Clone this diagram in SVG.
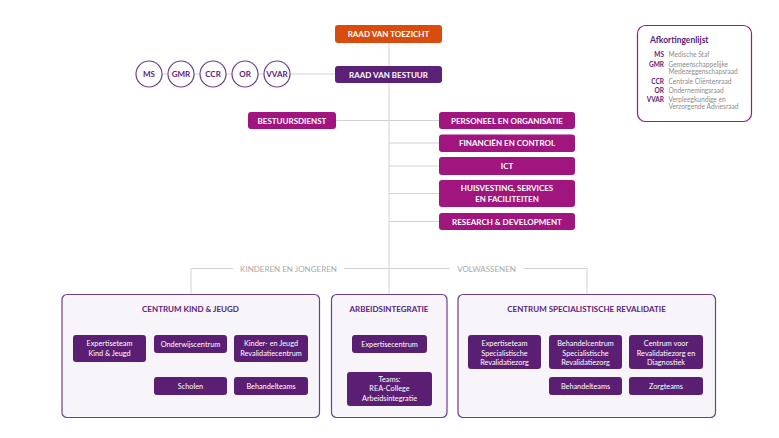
<svg xmlns="http://www.w3.org/2000/svg" width="779" height="438" viewBox="0 0 779 438">
<style>
text{font-family:Lato,"Open Sans","Liberation Sans",sans-serif}
.hb{font-size:8px;font-weight:700;fill:#fff;text-anchor:middle}
.sb{font-size:7.3px;fill:#fff;text-anchor:middle}
.ttl{font-size:8px;font-weight:700;fill:#5b2177;text-anchor:middle}
.grp{font-size:8px;fill:#a8a8a8;text-anchor:middle}
.ln{stroke:#d2d2d2;stroke-width:1;fill:none}
.orange{fill:#d84d0e}
.dp{fill:#5b2177}
.mg{fill:#a0157e}
.sub{fill:#5a1f72}
.big{fill:#f7f5f9;stroke:#6d3f8d;stroke-width:1.2}
.circ{fill:#fff;stroke:#6d3f8d;stroke-width:1.2}
.ct{font-size:8px;font-weight:700;fill:#5b2177;text-anchor:middle}
.la{font-size:6.5px;font-weight:700;fill:#5b2177;text-anchor:end}
.ld{font-size:6.6px;fill:#8c8c8c}
</style>
<rect width="779" height="438" fill="#fff"/>
<g id="connectors">
<line class="ln" x1="389" y1="43" x2="389" y2="295"/>
<line class="ln" x1="162" y1="74" x2="335" y2="74"/>
<line class="ln" x1="336" y1="120.5" x2="439" y2="120.5"/>
<line class="ln" x1="389" y1="143" x2="439" y2="143"/>
<line class="ln" x1="389" y1="166" x2="439" y2="166"/>
<line class="ln" x1="389" y1="193.5" x2="439" y2="193.5"/>
<line class="ln" x1="389" y1="221.5" x2="439" y2="221.5"/>
<polyline class="ln" points="191,295 191,268.5 233,268.5"/>
<line class="ln" x1="344" y1="268.5" x2="450" y2="268.5"/>
<polyline class="ln" points="523,268.5 587,268.5 587,295"/>
<polyline class="ln" points="109,335 109,322.5 271,322.5 271,377"/>
<line class="ln" x1="190" y1="322.5" x2="190" y2="377"/>
<line class="ln" x1="389" y1="322" x2="389" y2="372"/>
<polyline class="ln" points="504,335 504,322.5 666,322.5 666,377"/>
<line class="ln" x1="586" y1="322.5" x2="586" y2="377"/>
</g>
<g id="raad-van-toezicht"><rect class="orange" x="335" y="25" width="107" height="18" rx="3"/><text class="hb" x="388.5" y="37">RAAD VAN TOEZICHT</text></g>
<g id="raad-van-bestuur"><rect class="dp" x="335" y="66" width="107" height="17" rx="3"/><text class="hb" x="388.5" y="77.5">RAAD VAN BESTUUR</text></g>
<g id="ms"><circle class="circ" cx="149" cy="74" r="13"/><text class="ct" x="149" y="77">MS</text></g>
<g id="gmr"><circle class="circ" cx="181" cy="74" r="13"/><text class="ct" x="181" y="77">GMR</text></g>
<g id="ccr"><circle class="circ" cx="213" cy="74" r="13"/><text class="ct" x="213" y="77">CCR</text></g>
<g id="or"><circle class="circ" cx="245" cy="74" r="13"/><text class="ct" x="245" y="77">OR</text></g>
<g id="vvar"><circle class="circ" cx="277" cy="74" r="13"/><text class="ct" x="277" y="77">VVAR</text></g>
<g id="bestuursdienst"><rect class="mg" x="248" y="112" width="88" height="17" rx="3"/><text class="hb" x="292" y="123.5">BESTUURSDIENST</text></g>
<g id="personeel"><rect class="mg" x="439" y="112" width="136" height="17" rx="3"/><text class="hb" x="507" y="123.5">PERSONEEL EN ORGANISATIE</text></g>
<g id="financien"><rect class="mg" x="439" y="134.5" width="136" height="17.5" rx="3"/><text class="hb" x="507" y="146">FINANCIËN EN CONTROL</text></g>
<g id="ict"><rect class="mg" x="439" y="157" width="136" height="18" rx="3"/><text class="hb" x="507" y="169">ICT</text></g>
<g id="huisvesting"><rect class="mg" x="439" y="180" width="136" height="27" rx="3"/><text class="hb" x="507" y="191">HUISVESTING, SERVICES</text><text class="hb" x="507" y="201.5">EN FACILITEITEN</text></g>
<g id="research"><rect class="mg" x="439" y="213" width="136" height="17" rx="3"/><text class="hb" x="507" y="224.5">RESEARCH &amp; DEVELOPMENT</text></g>
<g id="afkortingenlijst">
<rect x="637.5" y="25.5" width="114" height="96" rx="8" fill="#fff" stroke="#a0157e" stroke-width="1.2"/>
<text x="650" y="43" style="font-size:8.5px;font-weight:700;fill:#5b2177">Afkortingenlijst</text>
<text class="la" x="664" y="57">MS</text><text class="ld" x="668.5" y="57">Medische Staf</text>
<text class="la" x="664" y="66.5">GMR</text><text class="ld" x="668.5" y="66.5">Gemeenschappelijke</text><text class="ld" x="668.5" y="73.5">Medezeggenschapsraad</text>
<text class="la" x="664" y="83.5">CCR</text><text class="ld" x="668.5" y="83.5">Centrale Cliëntenraad</text>
<text class="la" x="664" y="92.5">OR</text><text class="ld" x="668.5" y="92.5">Ondernemingsraad</text>
<text class="la" x="664" y="101.5">VVAR</text><text class="ld" x="668.5" y="101.5">Verpleegkundige en</text><text class="ld" x="668.5" y="108.5">Verzorgende Adviesraad</text>
</g>
<g id="labels">
<text class="grp" x="288.5" y="271.5">KINDEREN EN JONGEREN</text>
<text class="grp" x="486.5" y="271.5">VOLWASSENEN</text>
</g>
<g id="centrum-kind-jeugd">
<rect class="big" x="62" y="294.5" width="257.5" height="123" rx="5"/>
<text class="ttl" x="190.5" y="312">CENTRUM KIND &amp; JEUGD</text>
</g>
<g id="expertiseteam-kj"><rect class="sub" x="73" y="335" width="73" height="27" rx="3"/><text class="sb" x="109.5" y="346">Expertiseteam</text><text class="sb" x="109.5" y="355.5">Kind &amp; Jeugd</text></g>
<g id="onderwijscentrum"><rect class="sub" x="154" y="335" width="73" height="18" rx="3"/><text class="sb" x="190.5" y="346.5">Onderwijscentrum</text></g>
<g id="kjrc"><rect class="sub" x="234" y="335" width="74" height="27" rx="3"/><text class="sb" x="271" y="346">Kinder- en Jeugd</text><text class="sb" x="271" y="355.5">Revalidatiecentrum</text></g>
<g id="scholen"><rect class="sub" x="154" y="377" width="73" height="18" rx="3"/><text class="sb" x="190.5" y="388.5">Scholen</text></g>
<g id="behandelteams-kj"><rect class="sub" x="234" y="377" width="74" height="18" rx="3"/><text class="sb" x="271" y="388.5">Behandelteams</text></g>
<g id="arbeidsintegratie">
<rect class="big" x="331.5" y="294.5" width="115.5" height="123" rx="5"/>
<text class="ttl" x="389" y="312">ARBEIDSINTEGRATIE</text>
</g>
<g id="expertisecentrum"><rect class="sub" x="352" y="335" width="75" height="18" rx="3"/><text class="sb" x="389.5" y="346.5">Expertisecentrum</text></g>
<g id="teams-rea"><rect class="sub" x="347" y="372" width="85" height="34" rx="3"/><text class="sb" x="389.5" y="381.5">Teams:</text><text class="sb" x="389.5" y="391">REA-College</text><text class="sb" x="389.5" y="400.5">Arbeidsintegratie</text></g>
<g id="centrum-spec-rev">
<rect class="big" x="458" y="294.5" width="257.5" height="123" rx="5"/>
<text class="ttl" x="586.5" y="312">CENTRUM SPECIALISTISCHE REVALIDATIE</text>
</g>
<g id="expertiseteam-sr"><rect class="sub" x="468" y="335" width="73" height="34" rx="3"/><text class="sb" x="504.5" y="346">Expertiseteam</text><text class="sb" x="504.5" y="355.5">Specialistische</text><text class="sb" x="504.5" y="365">Revalidatiezorg</text></g>
<g id="behandelcentrum"><rect class="sub" x="549" y="335" width="73" height="34" rx="3"/><text class="sb" x="585.5" y="346">Behandelcentrum</text><text class="sb" x="585.5" y="355.5">Specialistische</text><text class="sb" x="585.5" y="365">Revalidatiezorg</text></g>
<g id="centrum-voor"><rect class="sub" x="629" y="335" width="74" height="34" rx="3"/><text class="sb" x="666" y="346">Centrum voor</text><text class="sb" x="666" y="355.5">Revalidatiezorg en</text><text class="sb" x="666" y="365">Diagnostiek</text></g>
<g id="behandelteams-sr"><rect class="sub" x="549" y="377" width="73" height="18" rx="3"/><text class="sb" x="585.5" y="388.5">Behandelteams</text></g>
<g id="zorgteams"><rect class="sub" x="629" y="377" width="74" height="18" rx="3"/><text class="sb" x="666" y="388.5">Zorgteams</text></g>
</svg>
